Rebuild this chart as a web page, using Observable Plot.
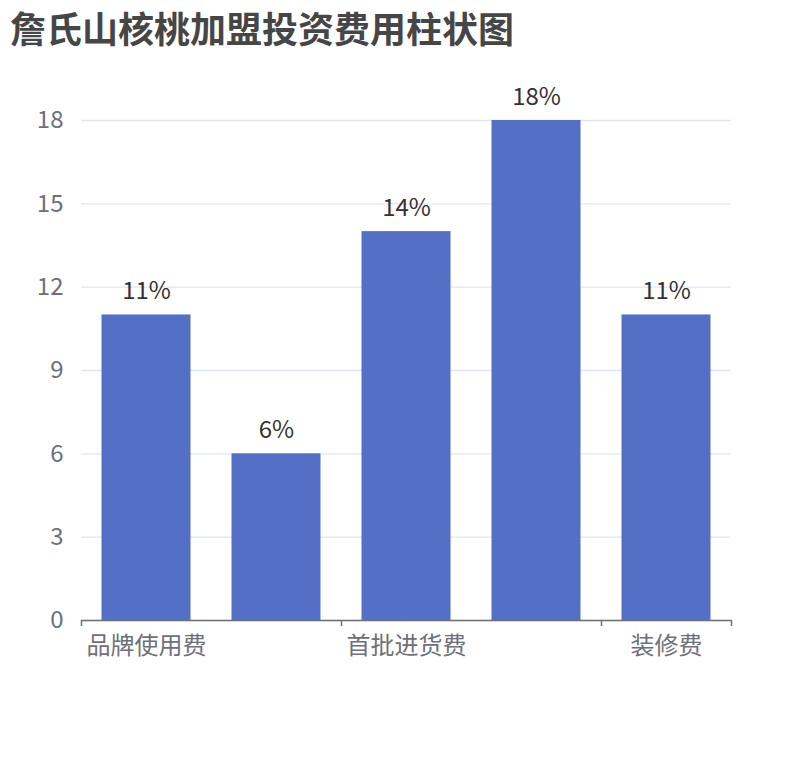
<!DOCTYPE html>
<html>
<head>
<meta charset="utf-8">
<script src="https://cdn.jsdelivr.net/npm/d3@7"></script>
<script src="https://cdn.jsdelivr.net/npm/@observablehq/plot@0.6"></script>
<style>
  body { margin: 0; background: #fff; font-family: "Noto Sans CJK SC", "Noto Sans", sans-serif; }
  #title { height: 51px; padding-top: 9px; padding-left: 10px; font-size: 36px; line-height: 36px; font-weight: bold; color: #464646; }
  #chart svg { display: block; }
</style>
</head>
<body>
<div id="title">詹氏山核桃加盟投资费用柱状图</div>
<div id="chart"></div>
<script>
const categories = ["品牌使用费", "加盟保证金", "首批进货费", "店铺租金", "装修费"];
const values = [11, 6, 14, 18, 11];
const valueLabels = ["11%", "6%", "14%", "18%", "11%"];
const yTicks = [0, 3, 6, 9, 12, 15, 18];
const shownXLabels = ["品牌使用费", "首批进货费", "装修费"];

const data = categories.map((c, i) => ({ category: c, value: values[i], label: valueLabels[i] }));

const axisColor = "#6e7079";
const font = "Noto Sans CJK SC";

const chart = Plot.plot({
  width: 810,
  height: 700,
  marginTop: 60,
  marginBottom: 140,
  marginLeft: 81,
  marginRight: 79,
  style: { fontFamily: font, background: "#fff" },
  x: { type: "band", domain: categories, padding: 0 },
  y: { domain: [0, 18] },
  marks: [
    Plot.gridY(yTicks, { stroke: "#e0e6f1", strokeOpacity: 1, strokeWidth: 1.3 }),
    Plot.axisY(yTicks, { tickSize: 0, tickPadding: 18, fontSize: 24, fill: axisColor, label: null }),
    Plot.axisX(shownXLabels, { tickSize: 0, tickPadding: 16, fontSize: 24, fill: axisColor, label: null }),
    Plot.barY(data, { x: "category", y: "value", fill: "#5470c6", insetLeft: 20.5, insetRight: 20.5 }),
    Plot.ruleY([0], { stroke: axisColor, strokeWidth: 1.5 }),
    Plot.ruleX(shownXLabels, { x: d => d, y1: 0, y2: 0, insetBottom: -6, dx: -65, stroke: axisColor, strokeWidth: 1.5 }),
    Plot.ruleX([categories[categories.length - 1]], { x: d => d, y1: 0, y2: 0, insetBottom: -6, dx: 65, stroke: axisColor, strokeWidth: 1.5 }),
    Plot.text(data, { x: "category", y: "value", text: "label", lineAnchor: "bottom", dy: -16, fontSize: 24, fill: "#333" })
  ]
});
document.getElementById("chart").appendChild(chart);
</script>
</body>
</html>
